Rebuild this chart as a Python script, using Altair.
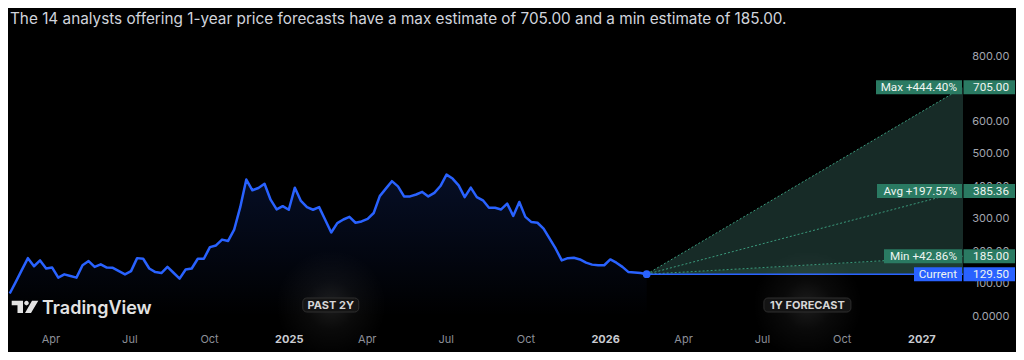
import altair as alt
import pandas as pd

# ---------------- data ----------------
title_text = ("The 14 analysts offering 1-year price forecasts have a max estimate "
              "of 705.00 and a min estimate of 185.00.")
history_start = "2024-02-14"          # weekly closes, past 2 years
history_prices = [
    70, 106, 143, 179, 154, 172, 147, 150, 119, 129, 124, 119, 157, 170, 152, 160,
    150, 149, 139, 129, 139, 179, 177, 147, 136, 133, 152, 134, 116, 144, 147, 177,
    177, 213, 218, 236, 232, 267, 336, 421, 388, 395, 408, 359, 329, 339, 328, 396,
    355, 336, 328, 336, 297, 258, 287, 298, 306, 288, 292, 300, 318, 370, 393, 416,
    400, 369, 369, 375, 383, 369, 380, 401, 436, 424, 403, 367, 396, 367, 357, 334,
    334, 329, 347, 309, 352, 306, 290, 288, 270, 239, 208, 172, 179, 180, 175, 165,
    159, 157, 157, 175, 165, 152, 136, 135, 133, 129.5,
]
current_price = 129.50
forecast_end = "2027-02-18"
forecast_names = ["Max", "Avg", "Min"]
forecast_values = [705.00, 385.36, 185.00]
forecast_pct = ["+444.40%", "+197.57%", "+42.86%"]
y_ticks = [0, 100, 200, 300, 400, 500, 600, 700, 800]
x_tick_dates = ["2024-04-01", "2024-07-01", "2024-10-01", "2025-01-01",
                "2025-04-01", "2025-07-01", "2025-10-01", "2026-01-01",
                "2026-04-01", "2026-07-01", "2026-10-01", "2027-01-01"]
x_domain_dates = ["2024-02-12", "2027-02-18"]
badge_texts = ["PAST 2Y", "1Y FORECAST"]

# ---------------- styles ----------------
FONT = "Inter"
BOX_FONT = "Roboto"
BLUE = "#2962ff"
GREEN_BOX = "#2a7a62"
FAN_FILL = "#172b27"
BAND_FILL = "#1f3c34"
DOT_COLOR = "#3a9a7c"
W, H = 955, 302
name_box_w = {"Max": 86, "Avg": 85, "Min": 78, "Current": 48}
badge_w = {"PAST 2Y": 56, "1Y FORECAST": 87}


def dt(s):
    t = pd.Timestamp(s)
    return alt.DateTime(year=t.year, month=t.month, date=t.day)


# ---------------- tables ----------------
dates = pd.date_range(history_start, periods=len(history_prices), freq="7D")
hist = pd.DataFrame({"date": dates.strftime("%Y-%m-%d"), "value": history_prices})
cur_date = dates[-1]
end_date = pd.Timestamp(forecast_end)
cur_s, end_s = cur_date.strftime("%Y-%m-%d"), end_date.strftime("%Y-%m-%d")

vmap = dict(zip(forecast_names, forecast_values))
fan = pd.DataFrame({"date": [cur_s, end_s],
                    "value": [current_price, vmap["Max"]],
                    "value2": [current_price, vmap["Min"]]})
band = pd.DataFrame({"date": [cur_s, end_s],
                     "value": [current_price, vmap["Min"]],
                     "value2": [current_price, current_price]})
dots = pd.DataFrame([{"date": d, "value": v, "name": n}
                     for n, fv in zip(forecast_names, forecast_values)
                     for d, v in ((cur_s, current_price), (end_s, fv))])
cur_line = pd.DataFrame({"date": [cur_s, end_s], "value": [current_price, current_price]})
cur_pt = pd.DataFrame({"date": [cur_s], "value": [current_price]})

rows = []
for n, v, p in zip(forecast_names, forecast_values, forecast_pct):
    rows.append({"kind": n, "name": f"{n} {p}", "value": v, "vtext": f"{v:.2f}"})
rows.append({"kind": "Current", "name": "Current", "value": current_price,
             "vtext": f"{current_price:.2f}"})
labels = pd.DataFrame(rows)

past_mid = dates[0] + (cur_date - dates[0]) / 2
fc_mid = cur_date + (end_date - cur_date) / 2
badges = pd.DataFrame({"date": [past_mid.strftime("%Y-%m-%d"), fc_mid.strftime("%Y-%m-%d")],
                       "text": badge_texts})
one = pd.DataFrame({"k": [0]})

# ---------------- encodings ----------------
x_enc = alt.X(
    "date:T",
    scale=alt.Scale(domain=[dt(d) for d in x_domain_dates]),
    title=None,
    axis=alt.Axis(
        values=[dt(d) for d in x_tick_dates],
        labelExpr="month(datum.value) == 0 ? timeFormat(datum.value, '%Y') : timeFormat(datum.value, '%b')",
        labelFontWeight={"condition": {"test": "month(datum.value) == 0", "value": "bold"}, "value": "normal"},
        labelColor={"condition": {"test": "month(datum.value) == 0", "value": "#c9cbd1"}, "value": "#8c8f98"},
        labelFont=FONT, labelFontSize=11, labelPadding=7,
        ticks=False, domain=False, grid=False, labelOverlap=False, labelFlush=False,
    ),
)
y_enc = alt.Y(
    "value:Q",
    scale=alt.Scale(domain=[-30, 900], nice=False, zero=False),
    title=None,
    axis=alt.Axis(
        orient="right", values=y_ticks,
        labelExpr="datum.value == 0 ? '0.0000' : format(datum.value, '.2f')",
        labelAlign="right", labelPadding=46, tickSize=0, ticks=False, domain=False,
        grid=False, labelFont=FONT, labelFontSize=11, labelColor="#a3a6af",
        labelOverlap=False,
    ),
)

# ---------------- layers ----------------
hist_grad = alt.Gradient(
    gradient="linear", x1=0, x2=0, y1=0, y2=1,
    stops=[alt.GradientStop(color="rgba(41,98,255,0.15)", offset=0),
           alt.GradientStop(color="rgba(41,98,255,0)", offset=1)],
)
glow = alt.Gradient(
    gradient="radial", x1=0.5, y1=0.5, r1=0, x2=0.5, y2=0.5, r2=0.5,
    stops=[alt.GradientStop(color="rgba(255,255,255,0.11)", offset=0),
           alt.GradientStop(color="rgba(255,255,255,0.04)", offset=0.45),
           alt.GradientStop(color="rgba(255,255,255,0)", offset=1)],
)

BADGE_Y = 281  # badge centre, px from plot top

layers = [
    alt.Chart(hist).mark_area(color=hist_grad).encode(x=x_enc, y=y_enc),
    alt.Chart(fan).mark_area(color=FAN_FILL).encode(x=x_enc, y=y_enc, y2=alt.Y2("value2")),
    alt.Chart(band).mark_area(color=BAND_FILL).encode(x=x_enc, y=y_enc, y2=alt.Y2("value2")),
    alt.Chart(dots).mark_line(strokeDash=[2, 2], strokeWidth=1, color=DOT_COLOR).encode(
        x=x_enc, y=y_enc, detail="name:N"),
    alt.Chart(cur_line).mark_line(color=BLUE, strokeWidth=1.5).encode(x=x_enc, y=y_enc),
    alt.Chart(hist).mark_line(color=BLUE, strokeWidth=2.5, strokeJoin="round").encode(x=x_enc, y=y_enc),
    alt.Chart(cur_pt).mark_circle(color=BLUE, size=60, opacity=1).encode(x=x_enc, y=y_enc),
    alt.Chart(badges).mark_circle(fill=glow, size=12000, opacity=1, strokeWidth=0, xOffset=3).encode(
        x=x_enc, y=alt.value(BADGE_Y)),
]
for t in badge_texts:
    w = badge_w[t]
    layers.append(
        alt.Chart(badges[badges.text == t]).mark_rect(
            xOffset=-w / 2 + 3, x2Offset=w / 2 + 3, cornerRadius=4,
            fill="#141414", stroke="#2e2e2e", strokeWidth=1,
        ).encode(x=x_enc, x2=alt.X2("date"), y=alt.value(BADGE_Y - 7), y2=alt.value(BADGE_Y + 7))
    )
layers.append(
    alt.Chart(badges).mark_text(font=FONT, fontSize=11, fontWeight="bold", color="#d6d6d6",
                                dx=3, baseline="middle").encode(
        x=x_enc, y=alt.value(BADGE_Y + 0.5), text="text:N")
)

# TradingView logo
logo_path = ("M-0.95,-0.443 H-0.143 V0.436 H-0.536 V-0.121 H-0.95 Z "
             "M-0.057,-0.279 A0.164,0.164 0 1,0 0.271,-0.279 A0.164,0.164 0 1,0 -0.057,-0.279 Z "
             "M0.5,-0.443 H0.95 L0.429,0.436 H0 Z")
layers.append(
    alt.Chart(one).mark_point(shape=logo_path, size=784, filled=True, color="#e3e3e3",
                              opacity=1, strokeWidth=0).encode(x=alt.value(17), y=alt.value(283))
)
layers.append(
    alt.Chart(one).mark_text(text="TradingView", font=FONT, fontSize=18, fontWeight=600,
                             color="#e3e3e3", align="left", baseline="alphabetic").encode(
        x=alt.value(34), y=alt.value(289.5))
)

# right-side labels
kinds = list(labels.kind)
layers.append(
    alt.Chart(labels).mark_rect(yOffset=-7, y2Offset=7).encode(
        x=alt.value(955.5), x2=alt.value(1007), y=y_enc, y2=alt.Y2("value"),
        color=alt.Color("kind:N", legend=None,
                        scale=alt.Scale(domain=kinds,
                                        range=[GREEN_BOX, GREEN_BOX, GREEN_BOX, BLUE])))
)
for k in kinds:
    w = name_box_w[k]
    layers.append(
        alt.Chart(labels[labels.kind == k]).mark_rect(
            yOffset=-7, y2Offset=7, color=BLUE if k == "Current" else GREEN_BOX).encode(
            x=alt.value(954 - w), x2=alt.value(954), y=y_enc, y2=alt.Y2("value"))
    )
layers.append(
    alt.Chart(labels).mark_text(font=BOX_FONT, fontSize=11.7, color="#eef5f1", align="right",
                                baseline="middle").encode(x=alt.value(949), y=y_enc, text="name:N")
)
layers.append(
    alt.Chart(labels).mark_text(font=BOX_FONT, fontSize=11.7, color="#eef5f1", align="right",
                                baseline="middle").encode(x=alt.value(1001), y=y_enc, text="vtext:N")
)

chart = alt.layer(*layers).properties(
    width=W, height=H,
    autosize="none",
    padding={"left": 0, "top": 16, "right": 53, "bottom": 26},
    background="#000000",
    title=alt.TitleParams(text=title_text, anchor="start", frame="group", dx=2, offset=3, dy=6,
                          font=FONT, fontSize=15.3, fontWeight="normal", color="#d1d4dc"),
).configure_view(stroke=None)

chart.save("out.html", embed_options={"renderer": "svg", "actions": False})
